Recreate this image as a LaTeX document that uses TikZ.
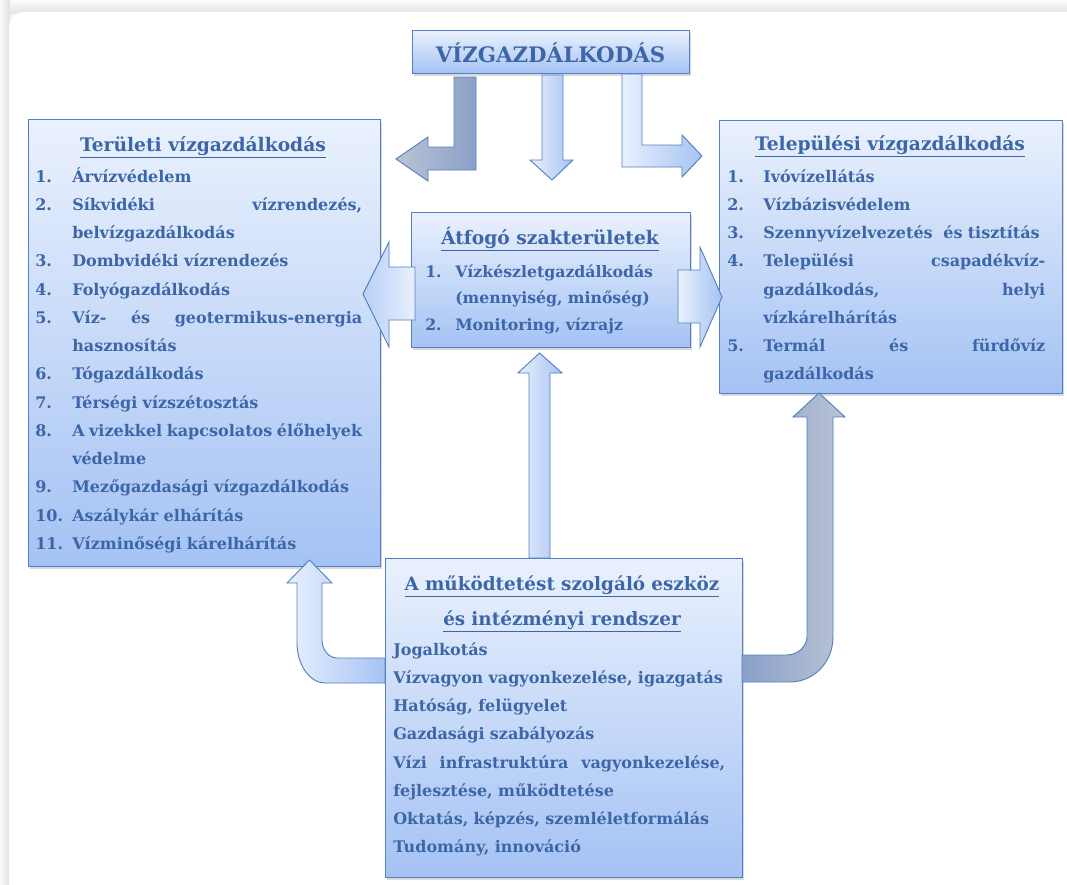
\documentclass[tikz,border=0pt]{standalone}
\usepackage{fontspec}
\setmainfont{DejaVu Serif}
\usetikzlibrary{shadows}
\definecolor{txt}{RGB}{60,102,168}
\definecolor{boxtop}{RGB}{234,241,253}
\definecolor{boxbot}{RGB}{164,194,244}
\definecolor{boxline}{RGB}{82,128,194}
\definecolor{arrlight}{RGB}{232,240,253}
\definecolor{arrblue}{RGB}{166,195,243}
\definecolor{darkarr}{RGB}{138,160,200}
\definecolor{grayarr}{RGB}{186,195,212}
\newlength\numw
\newcommand\Item[2]{\makebox[\numw][l]{#1}#2}
\newcommand\Cont[1]{\hspace*{\numw}#1}
\tikzset{
  box/.style={draw=boxline, line width=0.8pt, top color=boxtop, bottom color=boxbot,
    anchor=north west, inner sep=0pt,
    drop shadow={opacity=0.3, shadow xshift=1.2pt, shadow yshift=-1.6pt}},
  blockarrow/.style={draw=boxline, line width=0.7pt, line join=miter},
  ttl/.style={text=txt, inner sep=0pt, font=\bfseries\fontsize{14}{16}\selectfont},
  lst/.style={text=txt, inner sep=0pt, align=left, anchor=base west,
    font=\bfseries\fontsize{12}{21.2}\selectfont},
}
\begin{document}
\begin{tikzpicture}[x=0.75pt,y=-0.75pt]
\useasboundingbox (0,0) rectangle (1067,885);
% page background
\fill[gray!8] (0,0) rectangle (1067,885);
\shade[top color=gray!3, bottom color=gray!22] (0,0) rectangle (1067,13);
\shade[left color=gray!3, right color=gray!25] (0,0) rectangle (10,885);
\fill[white, rounded corners=11pt] (9,12) rectangle (1090,910);

% boxes
\node[box, minimum width=207.75pt, minimum height=32.25pt] (top) at (412,30) {};
\node[box, minimum width=264pt, minimum height=335.25pt] (L) at (28,119) {};
\node[box, minimum width=257.25pt, minimum height=204.75pt] (R) at (719,120) {};
\node[box, minimum width=209.25pt, minimum height=101.25pt] (M) at (411,212) {};
\node[box, minimum width=267.75pt, minimum height=239.25pt] (B) at (385,558) {};

% arrows from the top box
\path[blockarrow, left color=grayarr, right color=darkarr]
  (454,77) -- (476,77) -- (476,170) -- (428,170) -- (428,181) -- (396,159)
  -- (428,137) -- (428,147) -- (454,147) -- cycle;
\path[blockarrow, left color=arrlight, right color=arrblue]
  (542,75) -- (563,75) -- (563,160) -- (573,160) -- (552,180) -- (530,160)
  -- (542,160) -- cycle;
\path[blockarrow, left color=arrlight, right color=arrblue]
  (622,74) -- (642,74) -- (642,145) -- (682,145) -- (682,135) -- (702,156)
  -- (682,177) -- (682,167) -- (622,167) -- cycle;
% arrows from the middle box
\path[blockarrow, left color=arrblue!80, right color=arrlight]
  (415,267) -- (389,267) -- (389,242) -- (363,294) -- (389,347) -- (389,320)
  -- (415,320) -- cycle;
\path[blockarrow, left color=arrlight, right color=arrblue]
  (678,270) -- (700,270) -- (700,247) -- (722,297) -- (700,347) -- (700,323)
  -- (678,323) -- cycle;
% arrows from the bottom box
\path[blockarrow, left color=arrlight, right color=arrblue]
  (529,558) -- (529,373) -- (518,373) -- (539.5,353) -- (562,373) -- (550,373)
  -- (550,558) -- cycle;
\path[blockarrow, left color=arrlight, right color=arrblue]
  (385,658) -- (337,658) .. controls (329,658) and (322,650) .. (322,640)
  -- (322,583) -- (332,583) -- (309.5,560) -- (287,583) -- (297,583)
  -- (297,643) .. controls (297,665) and (310,683) .. (325,683)
  -- (385,683) -- cycle;
\path[blockarrow, left color=darkarr, right color=grayarr]
  (742,655) -- (787,655) .. controls (798,655) and (807,646) .. (807,637)
  -- (807,417) -- (793,417) -- (819,393) -- (845,417) -- (833,417)
  -- (833,637) .. controls (833,662) and (814,682) .. (790,682)
  -- (742,682) -- cycle;

% texts
\node[ttl, anchor=base, font=\bfseries\fontsize{16}{18}\selectfont] (topt) at (550.5,62) {VÍZGAZDÁLKODÁS};

\node[ttl, anchor=base] (Lt) at (203,151) {\underline{Területi vízgazdálkodás}};
\node[lst, text width=245.25pt] (Ll) at (35,182) {\setlength\numw{27.75pt}%
\Item{1.}{Árvízvédelem}\\
\Item{2.}{Síkvidéki\hfill vízrendezés,}\\
\Cont{belvízgazdálkodás}\\
\Item{3.}{Dombvidéki vízrendezés}\\
\Item{4.}{Folyógazdálkodás}\\
\Item{5.}{Víz-\hfill és\hfill geotermikus-energia}\\
\Cont{hasznosítás}\\
\Item{6.}{Tógazdálkodás}\\
\Item{7.}{Térségi vízszétosztás}\\
\Item{8.}{A\hfill vizekkel\hfill kapcsolatos\hfill élőhelyek}\\
\Cont{védelme}\\
\Item{9.}{Mezőgazdasági vízgazdálkodás}\\
\Item{10.}{Aszálykár elhárítás}\\
\Item{11.}{Vízminőségi kárelhárítás}};

\node[ttl, anchor=base] (Rt) at (890,150) {\underline{Települési vízgazdálkodás}};
\node[lst, text width=238.5pt] (Rl) at (727,182) {\setlength\numw{27pt}%
\Item{1.}{Ivóvízellátás}\\
\Item{2.}{Vízbázisvédelem}\\
\Item{3.}{Szennyvízelvezetés\ \ és tisztítás}\\
\Item{4.}{Települési\hfill csapadékvíz-}\\
\Cont{gazdálkodás,\hfill helyi}\\
\Cont{vízkárelhárítás}\\
\Item{5.}{Termál\hfill és\hfill fürdővíz}\\
\Cont{gazdálkodás}};

\node[ttl, anchor=base] (Mt) at (550,244) {\underline{Átfogó szakterületek}};
\node[lst, text width=187.5pt, font=\bfseries\fontsize{11.8}{19.9}\selectfont] (Ml) at (425,277) {\setlength\numw{22.5pt}%
\Item{1.}{Vízkészletgazdálkodás}\\
\Cont{(mennyiség, minőség)}\\
\Item{2.}{Monitoring, vízrajz}};

\node[ttl, anchor=base, text width=262pt, align=center, font=\bfseries\fontsize{13.8}{26.3}\selectfont] (Bt) at (562,590) {\underline{A működtetést szolgáló eszköz}\\\underline{és intézményi rendszer}};
\node[lst, text width=249pt] (Bl) at (393,655) {%
Jogalkotás\\
Vízvagyon vagyonkezelése, igazgatás\\
Hatóság, felügyelet\\
Gazdasági szabályozás\\
Vízi\hfill infrastruktúra\hfill vagyonkezelése,\\
fejlesztése, működtetése\\
Oktatás, képzés, szemléletformálás\\
Tudomány, innováció};
\end{tikzpicture}
\end{document}
